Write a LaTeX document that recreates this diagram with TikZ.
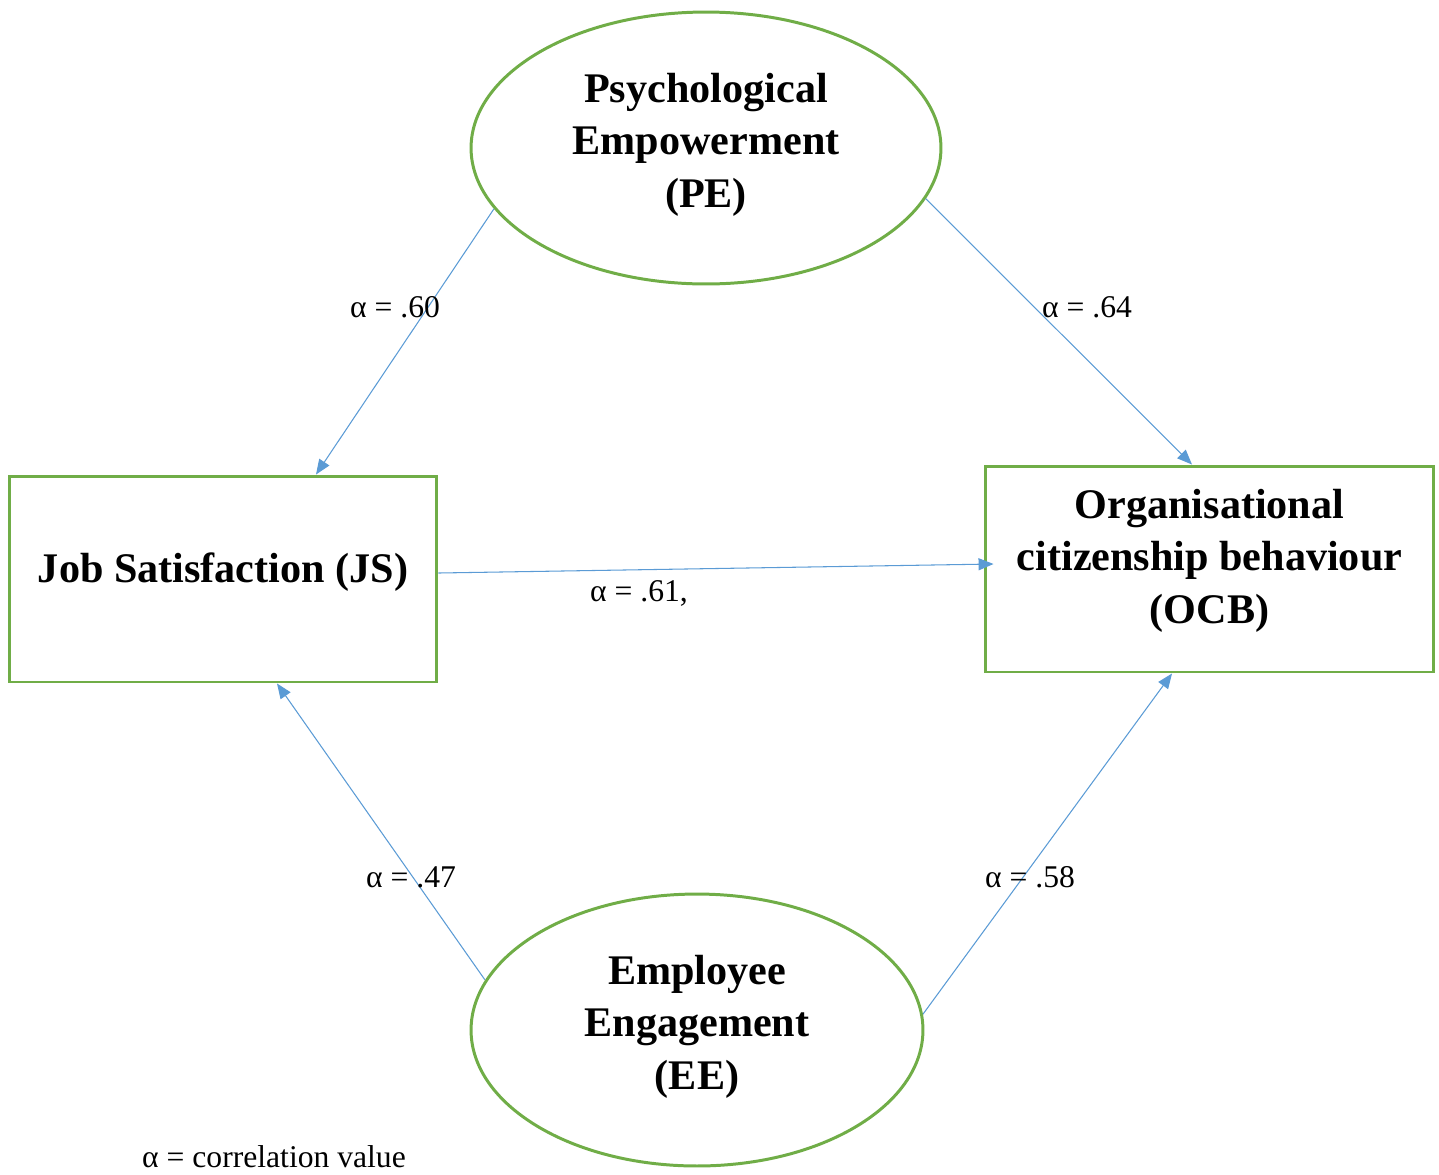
\documentclass[tikz,border=0pt]{standalone}
\usepackage{fontspec}
\setmainfont{Liberation Serif}
\usepackage{xcolor}
\usepackage{tikz}
\usetikzlibrary{shapes.geometric, arrows.meta, positioning, calc}
\definecolor{pathblue}{RGB}{91,155,213}
\definecolor{boxgreen}{RGB}{112,173,71}
\tikzset{
  varbox/.style={rectangle, draw=boxgreen, line width=1.7pt, minimum height=4.12cm, align=center, font=\fontsize{24}{30}\selectfont\bfseries},
  varellipse/.style={ellipse, draw=boxgreen, line width=1.7pt, minimum width=9.4cm, minimum height=5.44cm, inner sep=0pt, align=center, font=\fontsize{24}{30}\selectfont\bfseries},
  arrow/.style={-{Triangle[length=0.3cm, width=0.24cm]}, draw=pathblue, line width=0.6pt},
  corr/.style={font=\fontsize{18}{21}\selectfont, inner sep=0pt},
}

\begin{document}
\begin{tikzpicture}[x=0.02cm, y=-0.02cm]
  \useasboundingbox (0,0) rectangle (1439,1174);
  % variables
  \node[varellipse] (pe) at (706,148) {Psychological\\Empowerment\\(PE)\\[-21pt]\mbox{}};
  \node[varellipse, minimum width=9.04cm] (ee) at (697,1030) {Employee\\Engagement\\(EE)\\[-21pt]\mbox{}};
  \node[varbox, minimum width=8.56cm] (js) at (223,579) {Job Satisfaction (JS)\\[-17pt]\mbox{}};
  \node[varbox, minimum width=8.98cm] (ocb) at (1209.5,569) {Organisational\\citizenship behaviour\\(OCB)\\[-15.5pt]\mbox{}};
  % paths
  \draw[arrow] (pe.196.8) -- ([xshift=1.86cm]js.north);
  \draw[arrow] (pe.-13.7) -- ([xshift=-0.35cm]ocb.north);
  \draw[arrow] ([yshift=0.12cm]js.east) -- ([xshift=0.2cm, yshift=0.1cm]ocb.west);
  \draw[arrow] ([shift={(-0.04cm,-0.04cm)}]ee.166) -- ([xshift=1.08cm]js.south);
  \draw[arrow] (ee.4) -- ([xshift=-0.75cm]ocb.south);
  % correlation values
  \node[corr] (r1) at (395,307) {α = .60};
  \node[corr] (r2) at (1087,307) {α = .64};
  \node[corr] (r3) at (639,593) {α = .61,};
  \node[corr] (r4) at (411,877) {α = .47};
  \node[corr] (r5) at (1030,877) {α = .58};
  \node[corr] (note) at (274,1157) {α = correlation value};
\end{tikzpicture}
\end{document}
